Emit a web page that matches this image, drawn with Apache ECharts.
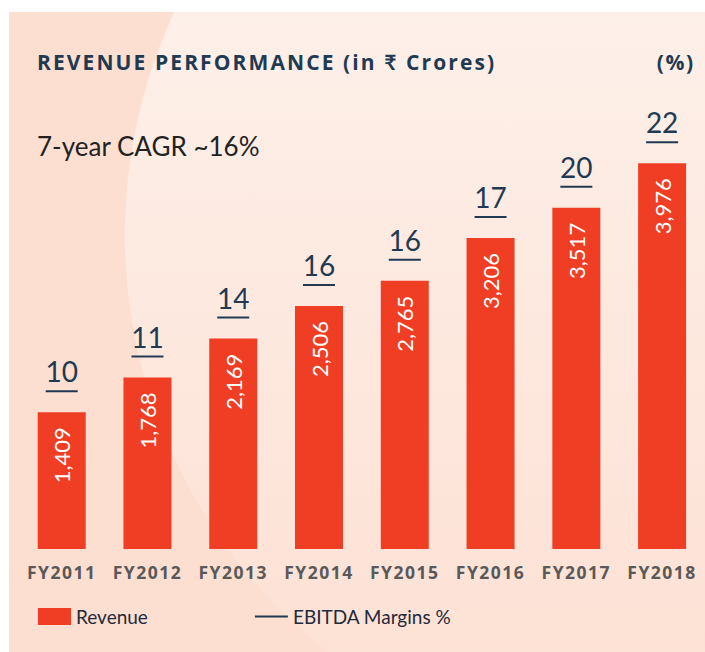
<!DOCTYPE html>
<html>
<head>
<meta charset="utf-8">
<title>Revenue Performance</title>
<script src="https://cdn.jsdelivr.net/npm/echarts@6/dist/echarts.min.js"></script>
<style>
  html, body { margin: 0; padding: 0; background: #ffffff; }
  #chart { width: 705px; height: 652px; }
</style>
</head>
<body>
<div id="chart"></div>
<script>
// Fiscal years on the category axis
const categories = ['FY2011', 'FY2012', 'FY2013', 'FY2014', 'FY2015', 'FY2016', 'FY2017', 'FY2018'];
// Revenue, ₹ Crores
const revenue = [1409, 1768, 2169, 2506, 2765, 3206, 3517, 3976];
// EBITDA margin, %
const ebitdaMargin = [10, 11, 14, 16, 16, 17, 20, 22];

const TITLE_TEXT = 'REVENUE PERFORMANCE (in ₹ Crores)';
const UNIT_TEXT = '(%)';
const CAGR_TEXT = '7-year CAGR ~16%';

const NAVY = '#1f3a52';
const RED = '#ef3e23';
const FONT = 'Lato, "Noto Sans", sans-serif';
const HEAD_FONT = '"Open Sans", Lato, sans-serif';

const chart = echarts.init(document.getElementById('chart'), null, { renderer: 'svg' });

const marginData = categories.map((c, i) => [i, revenue[i], ebitdaMargin[i]]);

chart.setOption({
  animation: false,
  backgroundColor: '#ffffff',
  graphic: [
    { type: 'rect', z: -10, silent: true, shape: { x: 9, y: 12, width: 696, height: 640 }, style: { fill: '#fddfd1' } },
    {
      type: 'circle', z: -9, silent: true,
      shape: { cx: 655, cy: 235, r: 530 },
      style: {
        fill: {
          type: 'linear', x: 0, y: 0, x2: 0, y2: 1,
          colorStops: [
            { offset: 0, color: '#fef3ee' },
            { offset: 0.29, color: '#fdf0e9' },
            { offset: 0.8, color: '#fde3d8' },
            { offset: 1, color: '#fde0d3' }
          ]
        }
      }
    },
    { type: 'rect', z: -8, silent: true, shape: { x: 0, y: 0, width: 705, height: 12 }, style: { fill: '#ffffff' } }
  ],
  title: [
    {
      text: TITLE_TEXT, left: 37, top: 51, padding: 0,
      textStyle: { fontFamily: HEAD_FONT, fontWeight: 'bold', fontSize: 21, color: NAVY }
    },
    {
      text: UNIT_TEXT, right: 15, top: 51, padding: 0,
      textStyle: { fontFamily: HEAD_FONT, fontWeight: 'bold', fontSize: 21, color: NAVY }
    },
    {
      text: CAGR_TEXT, left: 37, top: 133, padding: 0,
      textStyle: { fontFamily: FONT, fontWeight: 'normal', fontSize: 26, color: '#222222' }
    }
  ],
  legend: {
    left: 38, top: 607, padding: 0,
    itemWidth: 33, itemHeight: 17, itemGap: 107,
    textStyle: { fontFamily: FONT, fontSize: 19, color: '#1f2a3a' },
    data: [
      { name: 'Revenue', icon: 'rect' },
      { name: 'EBITDA Margins %', icon: 'path://M0,0H31V2H0Z' }
    ]
  },
  grid: { left: 18.8, right: -5.2, top: 161, bottom: 103 },
  xAxis: {
    type: 'category',
    data: categories,
    axisLine: { show: false },
    axisTick: { show: false },
    axisLabel: { fontFamily: HEAD_FONT, fontWeight: 'bold', fontSize: 17.5, color: '#595959', margin: 14 }
  },
  yAxis: { type: 'value', min: 0, max: 4000, show: false },
  series: [
    {
      name: 'Revenue',
      type: 'bar',
      data: revenue,
      barWidth: 48,
      itemStyle: { color: RED },
      label: {
        show: true,
        position: 'insideTop',
        rotate: 90,
        align: 'right',
        verticalAlign: 'middle',
        distance: 15,
        color: '#ffffff',
        fontFamily: FONT,
        fontSize: 22,
        formatter: p => p.value.toLocaleString('en-US')
      }
    },
    {
      name: 'EBITDA Margins %',
      type: 'custom',
      data: marginData,
      encode: { x: 0, y: 1 },
      itemStyle: { color: NAVY },
      renderItem: function (params, api) {
        const p = api.coord([api.value(0), api.value(1)]);
        return {
          type: 'group',
          children: [
            {
              type: 'line',
              shape: { x1: p[0] - 16, y1: p[1] - 21, x2: p[0] + 16, y2: p[1] - 21 },
              style: { stroke: NAVY, lineWidth: 2 }
            },
            {
              type: 'text',
              x: p[0], y: p[1] - 41,
              style: {
                text: String(api.value(2)),
                fill: NAVY,
                font: '28px ' + FONT,
                align: 'center',
                verticalAlign: 'middle'
              }
            }
          ]
        };
      }
    }
  ]
});

// Headings and year labels are set with a little tracking
function trackText() {
  chart.getDom().querySelectorAll('text').forEach(t => {
    const s = t.textContent;
    if (s === TITLE_TEXT) t.setAttribute('letter-spacing', '2.1px');
    else if (s === UNIT_TEXT) t.setAttribute('letter-spacing', '1.5px');
    else if (categories.indexOf(s) >= 0) t.setAttribute('letter-spacing', '1.5px');
  });
}
chart.on('finished', trackText);
setTimeout(trackText, 50);
</script>
</body>
</html>
